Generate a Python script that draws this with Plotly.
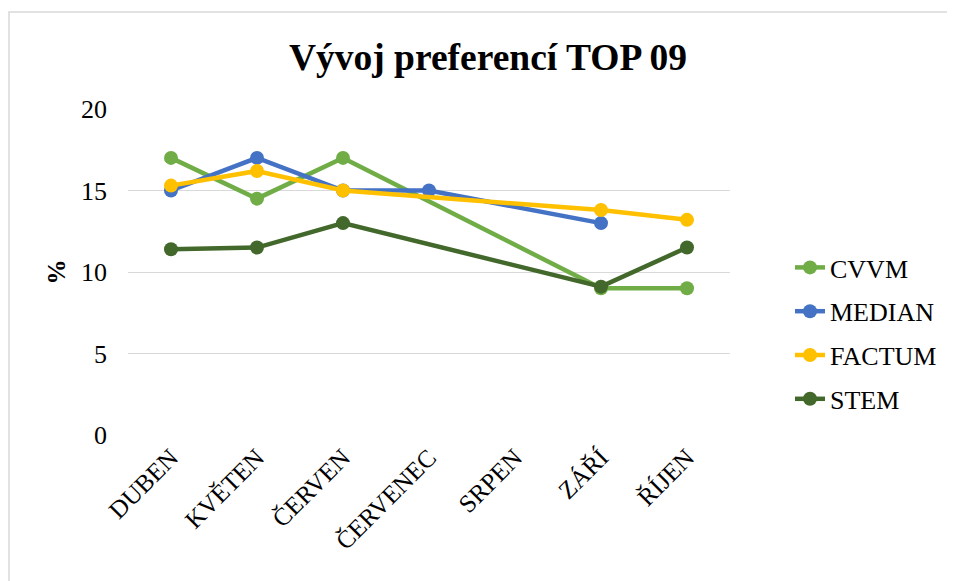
import plotly.graph_objects as go

months = ["DUBEN", "KVĚTEN", "ČERVEN", "ČERVENEC", "SRPEN", "ZÁŘÍ", "ŘÍJEN"]
cvvm = [17, 14.5, 17, None, None, 9, 9]
median = [15, 17, 15, 15, None, 13, None]
factum = [15.3, 16.2, 15, None, None, 13.8, 13.2]
stem = [11.4, 11.5, 13, None, None, 9.1, 11.5]

series = [
    ("CVVM", cvvm, "#70AD47"),
    ("MEDIAN", median, "#4472C4"),
    ("FACTUM", factum, "#FFC000"),
    ("STEM", stem, "#43682B"),
]

FONT = "Liberation Serif, Times New Roman, serif"

fig = go.Figure()
for name, vals, col in series:
    fig.add_trace(go.Scatter(
        x=months, y=vals, name=name, mode="lines+markers",
        connectgaps=True, legendgroup=name,
        line=dict(color=col, width=4.5),
        marker=dict(color=col, size=14),
    ))

OFF = 8  # page body margin
L, R, T, B = 128 - OFF, 730 - OFF, 109 - OFF, 435 - OFF
W, H = 955, 581
pw, ph = R - L, B - T

def px_x(p):
    return (p - OFF - L) / pw

def px_y(p):
    return (B - (p - OFF)) / ph

fig.update_layout(
    width=W, height=H,
    margin=dict(l=L, r=W - R, t=T, b=H - B, pad=0),
    paper_bgcolor="white", plot_bgcolor="white",
    font=dict(family=FONT, color="black", size=24),
    title=dict(text="<b>Vývoj preferencí TOP 09</b>", x=px_x(488), xanchor="center",
               xref="paper",
               y=1 - (57 - OFF) / H, yanchor="middle",
               font=dict(family=FONT, size=37.5, color="black")),
    xaxis=dict(type="category", categoryorder="array", categoryarray=months,
               tickangle=-45, tickfont=dict(size=25, family=FONT), showgrid=False,
               showline=False, zeroline=False, ticks="", ticklabelstandoff=2,
               range=[-0.5, 6.5]),
    yaxis=dict(range=[0, 20], dtick=5, showgrid=True, gridcolor="#D9D9D9",
               gridwidth=1.3, zeroline=False, showline=False, ticks="",
               tickfont=dict(size=26, family=FONT), ticklabelstandoff=20,
               title=dict(text="<b>%</b>", font=dict(size=25, family=FONT), standoff=8)),
    legend=dict(x=px_x(790), xanchor="left", y=px_y(244), yanchor="top",
                font=dict(size=26, family=FONT), tracegroupgap=7,
                bgcolor="rgba(0,0,0,0)"),
    showlegend=True,
    hovermode=False,
)

fig.add_shape(type="rect", xref="paper", yref="paper",
              x0=px_x(9), x1=px_x(975), y0=px_y(600), y1=px_y(12),
              line=dict(color="#D9D9D9", width=1.5), fillcolor="rgba(0,0,0,0)",
              layer="below")

fig.write_html("out.html")
